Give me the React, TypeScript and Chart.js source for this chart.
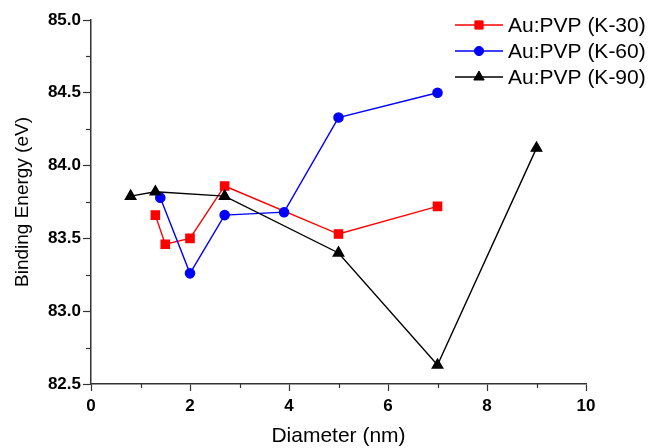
import React, { useEffect, useRef } from 'react';
import { Chart, registerables } from 'chart.js';
import { drawPoint } from 'chart.js/helpers';

Chart.register(...registerables);

const seriesLabels = ['Au:PVP (K-30)', 'Au:PVP (K-60)', 'Au:PVP (K-90)'];
const diameterK30 = [1.3, 1.5, 2.0, 2.7, 5.0, 7.0];
const energyK30 = [83.66, 83.46, 83.5, 83.86, 83.53, 83.72];
const diameterK60 = [1.4, 2.0, 2.7, 3.9, 5.0, 7.0];
const energyK60 = [83.78, 83.26, 83.66, 83.68, 84.33, 84.5];
const diameterK90 = [0.8, 1.3, 2.7, 5.0, 7.0, 9.0];
const energyK90 = [83.79, 83.82, 83.79, 83.4, 82.63, 84.12];
const xTicks = [0, 2, 4, 6, 8, 10];
const yTicks = [82.5, 83.0, 83.5, 84.0, 84.5, 85.0];

const FONT = 'Arial, "Liberation Sans", sans-serif';
const AXIS_COLOR = '#333333';

const toPoints = (xs: number[], ys: number[]) => xs.map((x, i) => ({ x, y: ys[i] }));

const minorTicksPlugin = {
  id: 'minorTicks',
  afterDraw(chart: any) {
    const { ctx } = chart;
    const xs = chart.scales.x;
    const ys = chart.scales.y;
    ctx.save();
    ctx.strokeStyle = AXIS_COLOR;
    ctx.lineWidth = 1.2;
    const xStep = (xTicks[1] - xTicks[0]) / 2;
    for (let v = xTicks[0] + xStep; v < xTicks[xTicks.length - 1]; v += xStep * 2) {
      const px = Math.round(xs.getPixelForValue(v)) + 0.5;
      ctx.beginPath();
      ctx.moveTo(px, xs.top);
      ctx.lineTo(px, xs.top + 4);
      ctx.stroke();
    }
    const yStep = (yTicks[1] - yTicks[0]) / 2;
    for (let v = yTicks[0] + yStep; v < yTicks[yTicks.length - 1]; v += yStep * 2) {
      const py = Math.round(ys.getPixelForValue(v)) + 0.5;
      ctx.beginPath();
      ctx.moveTo(ys.right, py);
      ctx.lineTo(ys.right - 5, py);
      ctx.stroke();
    }
    ctx.restore();
  },
};

const legendPlugin = {
  id: 'customLegend',
  afterDraw(chart: any) {
    const { ctx } = chart;
    ctx.save();
    const x0 = 455;
    const x1 = 503;
    const startY = 25;
    const gap = 26;
    chart.data.datasets.forEach((ds: any, i: number) => {
      const y = startY + i * gap;
      ctx.strokeStyle = ds.borderColor;
      ctx.lineWidth = ds.borderWidth;
      ctx.beginPath();
      ctx.moveTo(x0, y);
      ctx.lineTo(x1, y);
      ctx.stroke();
      ctx.fillStyle = ds.pointBackgroundColor;
      ctx.strokeStyle = ds.pointBorderColor;
      ctx.lineWidth = 1;
      drawPoint(ctx, { pointStyle: ds.pointStyle, radius: ds.pointRadius, rotation: 0, borderWidth: 1 }, (x0 + x1) / 2, y);
      ctx.fillStyle = '#000';
      ctx.font = `21px ${FONT}`;
      ctx.textAlign = 'left';
      ctx.textBaseline = 'middle';
      ctx.fillText(ds.label, 508, y + 1);
    });
    ctx.restore();
  },
};

export default function App() {
  const canvasRef = useRef<HTMLCanvasElement | null>(null);

  useEffect(() => {
    if (!canvasRef.current) return;
    const mk = (label: string, xs: number[], ys: number[], color: string, style: string, r: number, order: number) => ({
      label,
      data: toPoints(xs, ys),
      borderColor: color,
      backgroundColor: color,
      pointBackgroundColor: color,
      pointBorderColor: color,
      borderWidth: 1.4,
      pointStyle: style,
      pointRadius: r,
      pointHoverRadius: r,
      showLine: true,
      tension: 0,
      order,
      clip: false as any,
    });
    const chart = new Chart(canvasRef.current, {
      type: 'scatter',
      data: {
        datasets: [
          mk(seriesLabels[0], diameterK30, energyK30, '#ff0000', 'rect', 5.8, 3),
          mk(seriesLabels[1], diameterK60, energyK60, '#0000ff', 'circle', 4.6, 2),
          mk(seriesLabels[2], diameterK90, energyK90, '#000000', 'triangle', 6, 1),
        ],
      },
      options: {
        animation: false,
        responsive: false,
        maintainAspectRatio: false,
        layout: { padding: { top: 20, right: 62, bottom: 0, left: 0 } },
        plugins: { legend: { display: false }, tooltip: { enabled: false } },
        scales: {
          x: {
            type: 'linear',
            min: xTicks[0],
            max: xTicks[xTicks.length - 1],
            afterBuildTicks: (scale: any) => {
              scale.ticks = xTicks.map((v) => ({ value: v }));
            },
            afterFit: (scale: any) => {
              scale.height = 64;
            },
            grid: { drawOnChartArea: false, drawTicks: true, tickLength: 7, tickColor: AXIS_COLOR, tickWidth: 1.2 },
            border: { display: true, color: AXIS_COLOR, width: 1.5 },
            ticks: {
              color: '#000',
              font: { family: FONT, size: 17, weight: 'bold' },
              padding: 5,
              autoSkip: false,
              maxRotation: 0,
              callback: (v: any) => String(v),
            },
            title: {
              display: true,
              text: 'Diameter (nm)',
              color: '#000',
              font: { family: FONT, size: 21, lineHeight: 1 },
              padding: { top: 0, bottom: 1 },
            },
          },
          y: {
            type: 'linear',
            min: yTicks[0],
            max: yTicks[yTicks.length - 1],
            afterBuildTicks: (scale: any) => {
              scale.ticks = yTicks.map((v) => ({ value: v }));
            },
            afterFit: (scale: any) => {
              scale.width = 91;
            },
            grid: { drawOnChartArea: false, drawTicks: true, tickLength: 8, tickColor: AXIS_COLOR, tickWidth: 1.2 },
            border: { display: true, color: AXIS_COLOR, width: 1.5 },
            ticks: {
              color: '#000',
              font: { family: FONT, size: 17, weight: 'bold' },
              padding: 2,
              autoSkip: false,
              callback: (v: any) => Number(v).toFixed(1),
            },
            title: {
              display: true,
              text: 'Binding Energy (eV)',
              color: '#000',
              font: { family: FONT, size: 19, lineHeight: 1.2 },
              padding: { top: 11, bottom: 0 },
            },
          },
        },
      },
      plugins: [minorTicksPlugin, legendPlugin],
    } as any);
    return () => chart.destroy();
  }, []);

  return (
    <div style={{ position: 'fixed', left: 0, top: 0, width: 648, height: 448, background: '#fff' }}>
      <canvas ref={canvasRef} width={648} height={448} style={{ width: 648, height: 448 }} />
    </div>
  );
}
